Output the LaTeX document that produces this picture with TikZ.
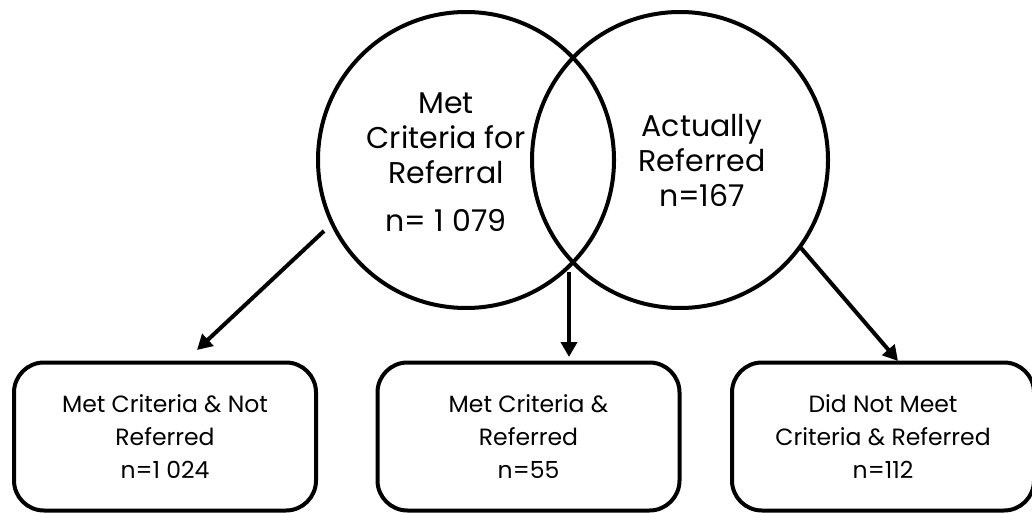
\documentclass[tikz,border=0pt]{standalone}
\usepackage{fontspec}
\setmainfont{Poppins}
\usetikzlibrary{arrows.meta}
\tikzset{
  venn/.style={circle, draw=black, line width=4pt, minimum size=296pt, inner sep=0pt},
  bigtext/.style={align=center, inner sep=0pt, font=\fontsize{30}{35}\selectfont},
  resultbox/.style={draw=black, line width=4pt, rounded corners=30pt, minimum width=302pt, minimum height=148pt, inner sep=0pt},
  boxtext/.style={align=center, inner sep=0pt, font=\fontsize{23.5}{33}\selectfont},
  flow/.style={line width=4pt, -{Triangle[length=15pt,width=16pt]}}
}
\begin{document}
\begin{tikzpicture}[x=1pt,y=-1pt]
\useasboundingbox (0,0) rectangle (1032,513);
% circles
\node[venn] (met) at (466,160) {};
\node[venn] (ref) at (680,160) {};
\node[bigtext] (mettext) at (446,162) {Met\\Criteria for\\Referral\\[13pt]n= 1 079};
\node[bigtext] (reftext) at (702,160) {Actually\\Referred\\n=167};
% boxes
\node[resultbox] (b1) at (165,436.5) {};
\node[resultbox] (b2) at (528.5,436.5) {};
\node[resultbox] (b3) at (883,436.5) {};
\node[boxtext] (t1) at (165,437) {Met Criteria \& Not\\Referred\\n=1 024};
\node[boxtext] (t2) at (528.5,437) {Met Criteria \&\\Referred\\n=55};
\node[boxtext] (t3) at (883,437) {Did Not Meet\\Criteria \& Referred\\n=112};
% arrow ends
\coordinate (s1) at (324,231);
\coordinate (e1) at (197,350);
\coordinate (s2) at (569,272);
\coordinate (e2) at (569,357);
\coordinate (s3) at (801,248);
\coordinate (e3) at (898,361);
\draw[flow] (s1) -- (e1);
\draw[flow] (s2) -- (e2);
\draw[flow] (s3) -- (e3);
\end{tikzpicture}
\end{document}
